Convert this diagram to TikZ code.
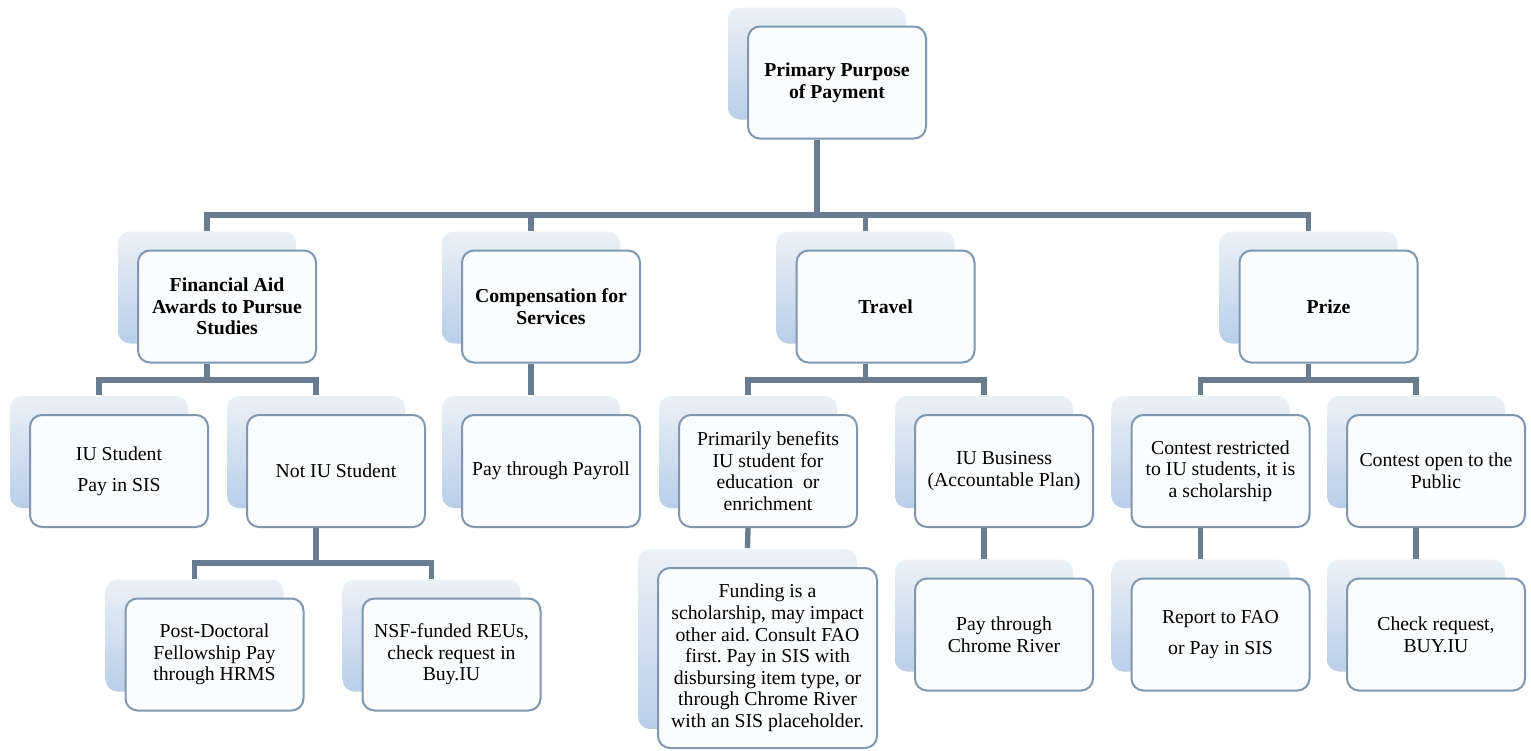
\documentclass[tikz,border=0pt]{standalone}
\usepackage{fontspec}
\setmainfont{Liberation Serif}
\usepackage{tikz}
\usetikzlibrary{shadows, calc}
\frenchspacing

\definecolor{cardline}{HTML}{7F97B0}
\definecolor{cardfill}{HTML}{FBFCFE}
\definecolor{backtop}{HTML}{EBF1F8}
\definecolor{backbot}{HTML}{B9CEE7}
\definecolor{linkcol}{HTML}{6A7D90}

\tikzset{
  card/.style={draw=cardline, line width=1.5pt, rounded corners=9pt, fill=cardfill,
    minimum width=133.5pt, minimum height=84pt, align=center, inner sep=2pt,
    font=\fontsize{14.8}{16.2}\selectfont,
    general shadow={shadow xshift=-15pt, shadow yshift=14.25pt,
      top color=backtop, bottom color=backbot}},
  head/.style={card, font=\fontsize{14.8}{16.2}\selectfont\bfseries},
  link/.style={draw=linkcol, line width=4pt},
}

\begin{document}
\begin{tikzpicture}[x=0.75pt, y=-0.75pt]

    \useasboundingbox (0,0) rectangle (1531,750);

    % -------------------------
    % Top level
    % -------------------------
    \node[head] (root) at (837,82.5) {Primary Purpose\\of Payment};

    % -------------------------
    % Second level
    % -------------------------
    \node[head] (fin)   at (227,306.5)    {Financial Aid\\Awards to Pursue\\Studies};
    \node[head] (comp)  at (551,306.5)    {Compensation for\\Services};
    \node[head] (trav)  at (885.5,306.5)  {Travel};
    \node[head] (prize) at (1328.5,306.5) {Prize};

    % -------------------------
    % Third level
    % -------------------------
    \node[card] (iustu)   at (119,471)    {IU Student\\[7pt]Pay in SIS};
    \node[card] (notiu)   at (336,471)    {Not IU Student};
    \node[card] (payroll) at (551,471)    {Pay through Payroll};
    \node[card] (benefit) at (768,471)    {Primarily benefits\\IU student for\\education~ or\\enrichment};
    \node[card] (busi)    at (1004,471)   {IU Business\\(Accountable Plan)};
    \node[card] (contest) at (1220.5,471) {Contest restricted\\to IU students, it is\\a scholarship};
    \node[card] (public)  at (1436,471)   {Contest open to the\\Public};

    % -------------------------
    % Fourth level
    % -------------------------
    \node[card] (postdoc) at (214.5,654.5) {Post-Doctoral\\Fellowship Pay\\through HRMS};
    \node[card] (nsf)     at (451.5,654.5) {NSF-funded REUs,\\check request in\\Buy.IU};
    \node[card, minimum width=164.25pt, minimum height=135pt]
                (funding) at (767.5,658)   {Funding is a\\scholarship, may impact\\other aid. Consult FAO\\first. Pay in SIS with\\disbursing item type, or\\through Chrome River\\with an SIS placeholder.};
    \node[card] (chrome)  at (1004,634.5)   {Pay through\\Chrome River};
    \node[card] (report)  at (1220.5,634.5) {Report to FAO\\[7pt]or Pay in SIS};
    \node[card] (check)   at (1436,634.5)   {Check request,\\BUY.IU};

    % -------------------------
    % Connectors
    % -------------------------
    % bars where a parent splits into several children
    \coordinate (rootbar)  at ([xshift=-15pt]root.south |- 0,215);
    \coordinate (finbar)   at ([xshift=-15pt]fin.south |- 0,380);
    \coordinate (travbar)  at ([xshift=-15pt]trav.south |- 0,380);
    \coordinate (prizebar) at ([xshift=-15pt]prize.south |- 0,380);
    \coordinate (notiubar) at ([xshift=-15pt]notiu.south |- 0,563);

    \draw[link] ([xshift=-15pt]root.south) -- (rootbar);
    \foreach \kid in {fin, comp, trav, prize}
        \draw[link] (rootbar) -| ([xshift=-15pt, yshift=14.25pt]\kid.north);

    \draw[link] ([xshift=-15pt]fin.south) -- (finbar);
    \foreach \kid in {iustu, notiu}
        \draw[link] (finbar) -| ([xshift=-15pt, yshift=14.25pt]\kid.north);

    \draw[link] ([xshift=-15pt]notiu.south) -- (notiubar);
    \foreach \kid in {postdoc, nsf}
        \draw[link] (notiubar) -| ([xshift=-15pt, yshift=14.25pt]\kid.north);

    \draw[link] ([xshift=-15pt]trav.south) -- (travbar);
    \foreach \kid in {benefit, busi}
        \draw[link] (travbar) -| ([xshift=-15pt, yshift=14.25pt]\kid.north);

    \draw[link] ([xshift=-15pt]prize.south) -- (prizebar);
    \foreach \kid in {contest, public}
        \draw[link] (prizebar) -| ([xshift=-15pt, yshift=14.25pt]\kid.north);

    % single children
    \draw[link] ([xshift=-15pt]comp.south) -- ([xshift=-15pt, yshift=14.25pt]payroll.north);
    \draw[link] ([xshift=-15pt]benefit.south) -- ([xshift=-15pt, yshift=14.25pt]funding.north);
    \draw[link] ([xshift=-15pt]busi.south) -- ([xshift=-15pt, yshift=14.25pt]chrome.north);
    \draw[link] ([xshift=-15pt]contest.south) -- ([xshift=-15pt, yshift=14.25pt]report.north);
    \draw[link] ([xshift=-15pt]public.south) -- ([xshift=-15pt, yshift=14.25pt]check.north);

\end{tikzpicture}
\end{document}
